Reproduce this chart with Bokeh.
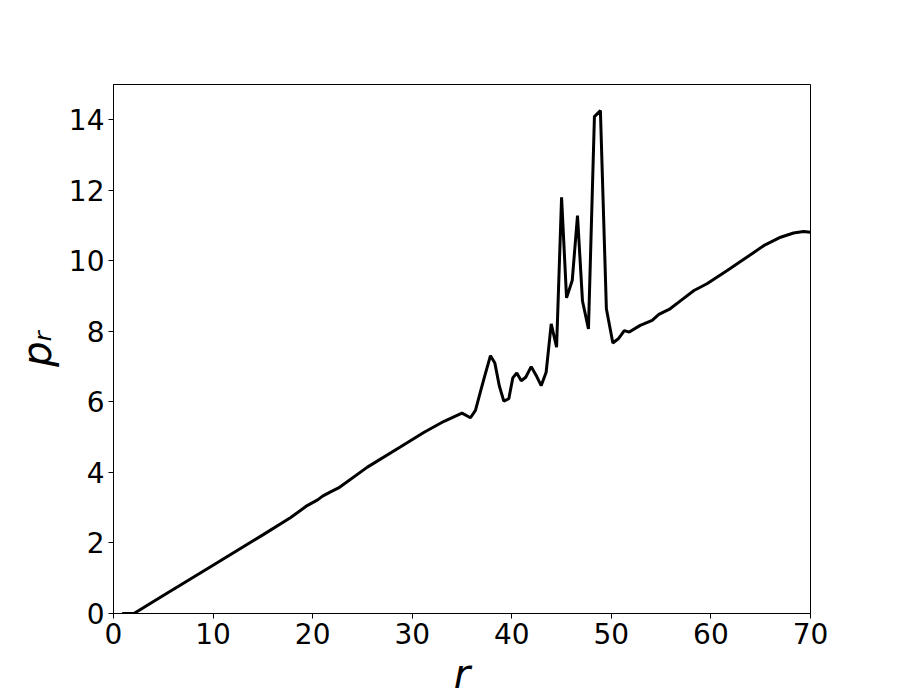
from bokeh.plotting import figure
from bokeh.models import Range1d, FixedTicker
from bokeh.embed import file_html
from bokeh.resources import INLINE

# data
r = [0.87, 2.05, 5.0, 10.0, 15.0, 17.8, 19.45, 20.5, 21.0, 21.8, 22.6, 25.5, 28.8,
     31.2, 33.2, 35.0, 35.85, 36.35, 36.86, 37.3, 37.86, 38.3, 38.75, 39.2, 39.7,
     40.1, 40.5, 40.95, 41.4, 41.95, 42.45, 42.95, 43.45, 43.96, 44.5, 45.0, 45.5,
     46.07, 46.6, 47.1, 47.7, 48.3, 48.9, 49.5, 50.15, 50.7, 51.3, 51.8, 52.9,
     54.1, 54.77, 55.9, 57.0, 58.3, 59.6, 61.6, 63.6, 65.3, 67.0, 68.3, 69.3, 70.0]
p_r = [0.0, 0.0, 0.51, 1.37, 2.23, 2.72, 3.06, 3.22, 3.33, 3.45, 3.56, 4.15, 4.72,
       5.14, 5.45, 5.68, 5.55, 5.76, 6.3, 6.75, 7.31, 7.1, 6.45, 6.02, 6.09,
       6.68, 6.82, 6.6, 6.7, 7.0, 6.75, 6.46, 6.84, 8.21, 7.55, 11.8, 8.95,
       9.44, 11.28, 8.86, 8.07, 14.09, 14.26, 8.64, 7.67, 7.79, 8.02, 7.98, 8.17,
       8.31, 8.48, 8.64, 8.88, 9.16, 9.35, 9.72, 10.1, 10.43, 10.67, 10.79, 10.83, 10.81]
x_ticks = [0, 10, 20, 30, 40, 50, 60, 70]
y_ticks = [0, 2, 4, 6, 8, 10, 12, 14]

FONT = "DejaVu Sans"

p = figure(frame_width=697, frame_height=529, output_backend="svg",
           toolbar_location=None, x_range=Range1d(0, 70), y_range=Range1d(0, 15),
           min_border_left=113, min_border_top=84, min_border_right=90,
           min_border_bottom=87)
p.background_fill_color = "white"
p.border_fill_color = "white"
p.outline_line_color = "black"
p.outline_line_width = 1
p.xgrid.visible = False
p.ygrid.visible = False

p.line(r, p_r, line_color="black", line_width=3)

for ax, ticks in ((p.xaxis, x_ticks), (p.yaxis, y_ticks)):
    ax.ticker = FixedTicker(ticks=ticks)
    ax.minor_tick_line_color = None
    ax.major_tick_in = 0
    ax.major_tick_out = 5
    ax.major_tick_line_color = "black"
    ax.axis_line_color = "black"
    ax.major_label_text_font = FONT
    ax.major_label_text_font_size = "28px"
    ax.major_label_text_color = "black"
    ax.major_label_standoff = 4
    ax.axis_label_text_font = FONT
    ax.axis_label_text_font_style = "italic"
    ax.axis_label_text_font_size = "40px"
    ax.axis_label_text_color = "black"

p.xaxis.axis_label = "r"
p.xaxis.axis_label_standoff = 4
p.yaxis.axis_label = "p\u1d63"
p.yaxis.axis_label_standoff = 6

open("out.html", "w").write(file_html(p, INLINE))
